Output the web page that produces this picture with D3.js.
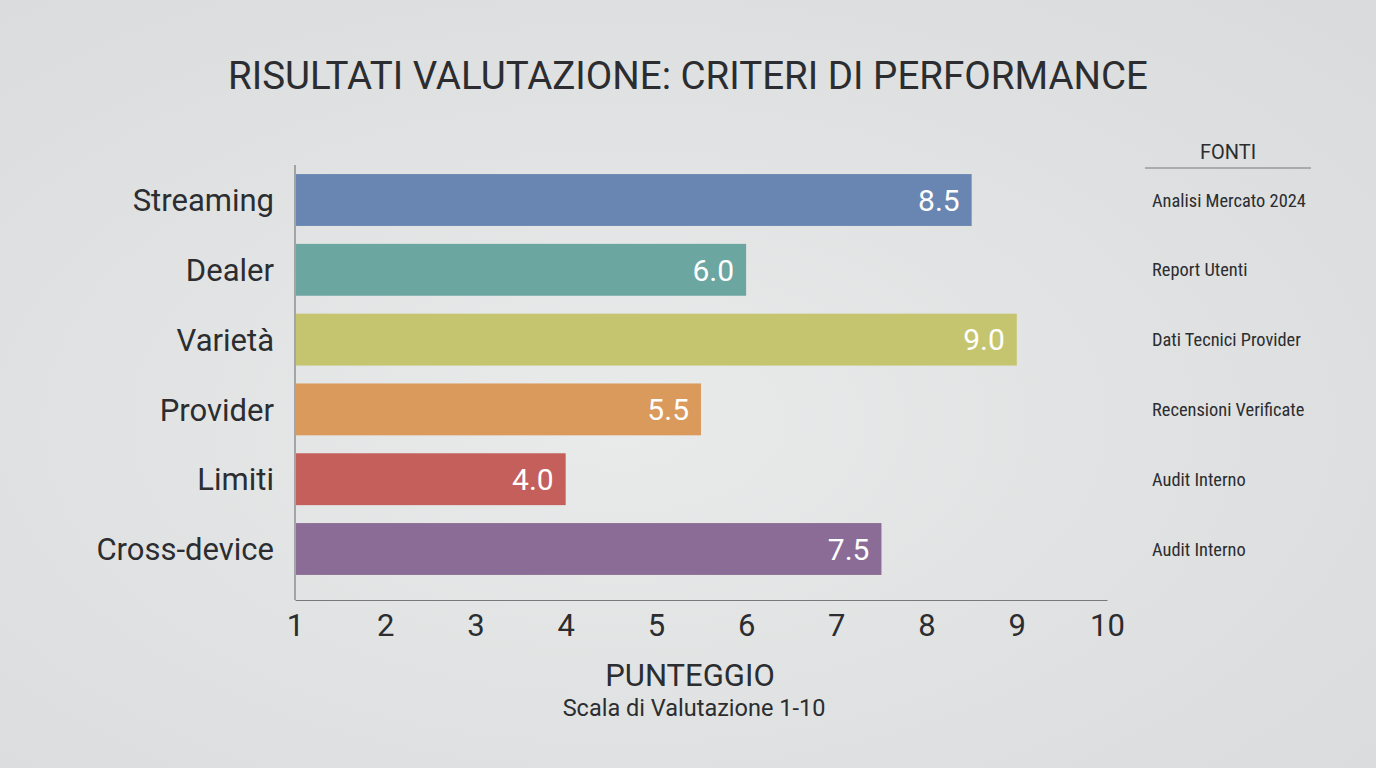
<!DOCTYPE html>
<html>
<head>
<meta charset="utf-8">
<script src="https://cdn.jsdelivr.net/npm/d3@7"></script>
<style>
  html, body { margin: 0; padding: 0; }
  body { width: 1376px; height: 768px; overflow: hidden; font-family: Roboto, "Open Sans", sans-serif; }
</style>
</head>
<body>
<svg id="chart" width="1376" height="768"></svg>
<script>
// Criteri valutati, punteggi e fonti
const criteri = ["Streaming", "Dealer", "Varietà", "Provider", "Limiti", "Cross-device"];
const punteggi = [8.5, 6.0, 9.0, 5.5, 4.0, 7.5];
const fonti = ["Analisi Mercato 2024", "Report Utenti", "Dati Tecnici Provider", "Recensioni Verificate", "Audit Interno", "Audit Interno"];
const colori = ["#6886b1", "#6ba6a1", "#c6c56f", "#d99a5b", "#c55f5c", "#8a6c97"];
const tickValori = [1, 2, 3, 4, 5, 6, 7, 8, 9, 10];

const svg = d3.select("#chart");

// Sfondo grigio chiaro sfumato
const defs = svg.append("defs");
const grad = defs.append("radialGradient")
    .attr("id", "sfondo")
    .attr("cx", "45%").attr("cy", "55%").attr("r", "75%");
grad.append("stop").attr("offset", "0%").attr("stop-color", "#e9eaea");
grad.append("stop").attr("offset", "100%").attr("stop-color", "#d9dbdc");
svg.append("rect")
    .attr("width", 1376).attr("height", 768)
    .attr("fill", "url(#sfondo)");

// Titolo
svg.append("text")
    .attr("x", 688).attr("y", 89)
    .attr("text-anchor", "middle")
    .attr("font-size", "38.5px")
    .attr("fill", "#2b2d30")
    .text("RISULTATI VALUTAZIONE: CRITERI DI PERFORMANCE");

const margin = {left: 295, right: 1107, top: 165, bottom: 600};

const x = d3.scaleLinear()
    .domain([1, 10])
    .range([margin.left, margin.right]);

const y = d3.scaleBand()
    .domain(criteri)
    .range([margin.top, margin.bottom - 16])
    .paddingInner(0.257)
    .paddingOuter(0.13);

const g = svg.append("g");

// Barre
g.selectAll("rect.barra")
    .data(criteri)
    .enter()
    .append("rect")
    .attr("class", "barra")
    .attr("x", x(1) + 1)
    .attr("y", d => y(d))
    .attr("width", (d, i) => x(punteggi[i]) - x(1) - 1)
    .attr("height", y.bandwidth())
    .attr("fill", (d, i) => colori[i]);

// Valori dentro le barre
g.selectAll("text.valore")
    .data(criteri)
    .enter()
    .append("text")
    .attr("class", "valore")
    .attr("x", (d, i) => x(punteggi[i]) - 12)
    .attr("y", d => y(d) + y.bandwidth() / 2)
    .attr("dy", "0.36em")
    .attr("text-anchor", "end")
    .attr("font-size", "30px")
    .attr("fill", "#ffffff")
    .text((d, i) => punteggi[i].toFixed(1));

// Etichette dei criteri
g.selectAll("text.criterio")
    .data(criteri)
    .enter()
    .append("text")
    .attr("class", "criterio")
    .attr("x", margin.left - 21)
    .attr("y", d => y(d) + y.bandwidth() / 2)
    .attr("dy", "0.36em")
    .attr("text-anchor", "end")
    .attr("font-size", "31px")
    .attr("fill", "#2b2d30")
    .text(d => d);

// Asse verticale
g.append("line")
    .attr("x1", margin.left).attr("x2", margin.left)
    .attr("y1", margin.top).attr("y2", margin.bottom)
    .attr("stroke", "#77797b").attr("stroke-width", 1.2);

// Asse orizzontale
const asseX = g.append("g")
    .attr("transform", `translate(0,${margin.bottom})`)
    .call(d3.axisBottom(x).tickValues(tickValori).tickSize(0).tickPadding(14).tickFormat(d3.format("d")));
asseX.select(".domain").attr("stroke", "#77797b").attr("stroke-width", 1.2);
asseX.selectAll("text")
    .attr("font-family", "Roboto, sans-serif")
    .attr("font-size", "31px")
    .attr("fill", "#2b2d30");

// Titolo asse
svg.append("text")
    .attr("x", 690).attr("y", 686)
    .attr("text-anchor", "middle")
    .attr("font-size", "31px")
    .attr("fill", "#2b2d30")
    .text("PUNTEGGIO");
svg.append("text")
    .attr("x", 694).attr("y", 716)
    .attr("text-anchor", "middle")
    .attr("font-size", "23.5px")
    .attr("fill", "#2b2d30")
    .text("Scala di Valutazione 1-10");

// Colonna fonti
svg.append("text")
    .attr("x", 1228).attr("y", 159)
    .attr("text-anchor", "middle")
    .attr("font-size", "20px")
    .attr("fill", "#2b2d30")
    .text("FONTI");
svg.append("line")
    .attr("x1", 1145).attr("x2", 1311)
    .attr("y1", 168).attr("y2", 168)
    .attr("stroke", "#77797b").attr("stroke-width", 1.2);

svg.selectAll("text.fonte")
    .data(criteri)
    .enter()
    .append("text")
    .attr("class", "fonte")
    .attr("x", 1152)
    .attr("y", d => y(d) + y.bandwidth() / 2)
    .attr("dy", "0.36em")
    .attr("font-size", "18.4px")
    .attr("font-stretch", "condensed")
    .attr("fill", "#2b2d30")
    .text((d, i) => fonti[i]);
</script>
</body>
</html>
